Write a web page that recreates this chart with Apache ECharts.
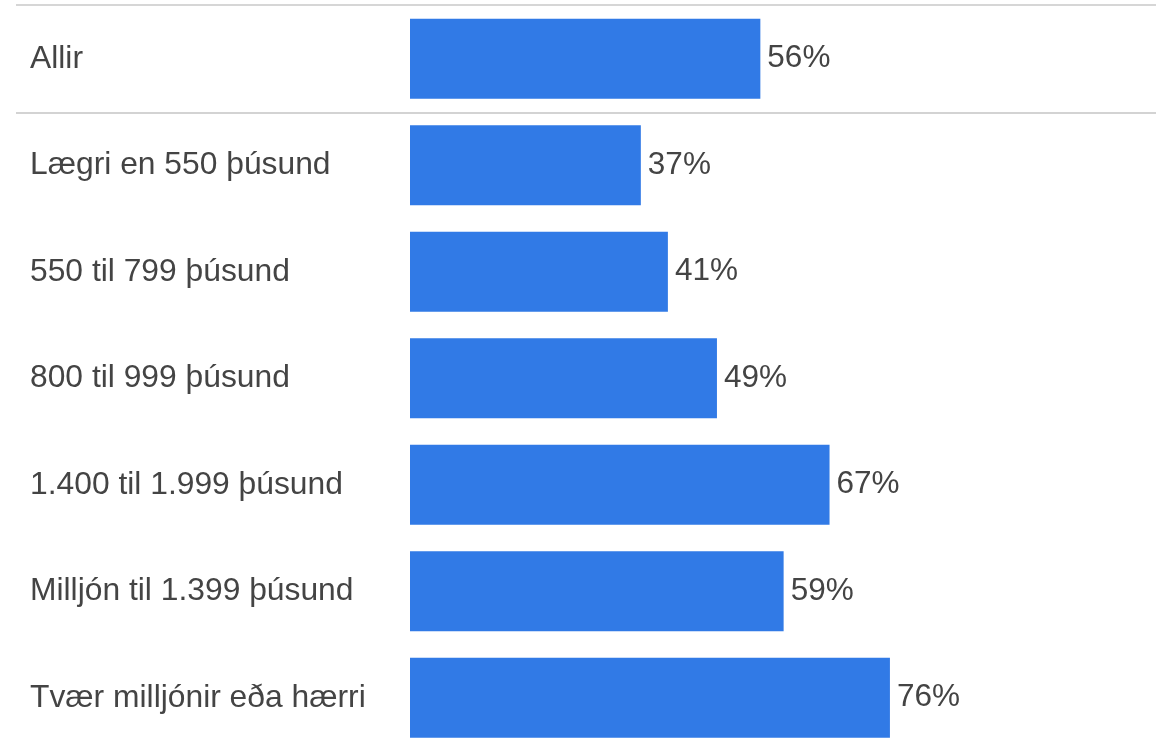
<!DOCTYPE html>
<html>
<head>
<meta charset="utf-8">
<script src="https://cdn.jsdelivr.net/npm/echarts@6/dist/echarts.min.js"></script>
<style>
html,body{margin:0;padding:0;background:#fff;}
#chart{width:1156px;height:751px;}
</style>
</head>
<body>
<div id="chart"></div>
<script>
var categories = ["Allir", "Lægri en 550 þúsund", "550 til 799 þúsund", "800 til 999 þúsund", "1.400 til 1.999 þúsund", "Milljón til 1.399 þúsund", "Tvær milljónir eða hærri"];
var values = [55.7, 36.7, 41.0, 48.8, 66.7, 59.4, 76.3];

var chart = echarts.init(document.getElementById('chart'));
chart.setOption({
  animation: false,
  backgroundColor: '#ffffff',
  grid: { left: 410, top: 5.5, width: 629, height: 753, containLabel: false },
  xAxis: {
    type: 'value', min: 0, max: 100, show: false
  },
  yAxis: {
    type: 'category', data: categories, inverse: true,
    axisLine: { show: false }, axisTick: { show: false }, splitLine: { show: false },
    axisLabel: {
      align: 'left', margin: 380, color: '#444444',
      fontFamily: 'Liberation Sans, Arial, sans-serif', fontSize: 31.8
    }
  },
  series: [{
    type: 'bar', data: values, barWidth: 80,
    itemStyle: { color: '#317AE6' },
    label: {
      show: true, position: 'right', distance: 7,
      formatter: function (p) { return Math.round(p.value) + '%'; },
      color: '#444444',
      fontFamily: 'Liberation Sans, Arial, sans-serif', fontSize: 31.5
    }
  }],
  graphic: [
    { type: 'line', shape: { x1: 16, y1: 5, x2: 1156, y2: 5 }, style: { stroke: '#d6d6d6', lineWidth: 2 }, silent: true },
    { type: 'line', shape: { x1: 16, y1: 113, x2: 1156, y2: 113 }, style: { stroke: '#d3d3d3', lineWidth: 2 }, silent: true }
  ]
});
</script>
</body>
</html>
